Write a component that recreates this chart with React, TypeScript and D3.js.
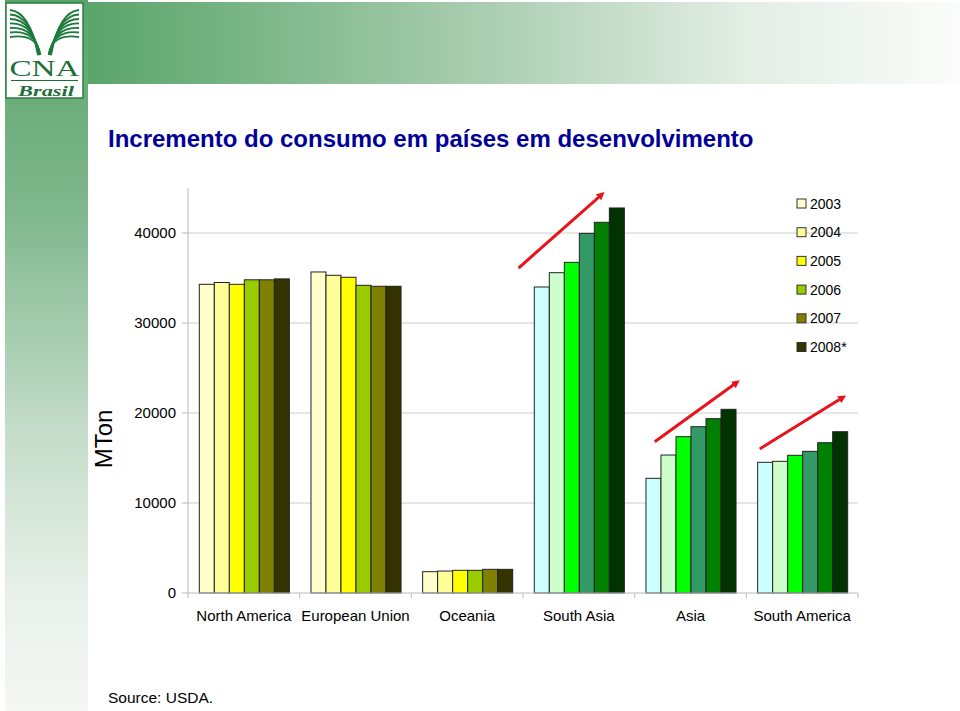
import React from "react";
import * as d3 from "d3";

const categories = ["North America", "European Union", "Oceania", "South Asia", "Asia", "South America"];
const years = ["2003", "2004", "2005", "2006", "2007", "2008*"];
const values: number[][] = [
  [34300, 34500, 34300, 34800, 34800, 34900],
  [35670, 35300, 35080, 34190, 34080, 34080],
  [2370, 2440, 2520, 2520, 2630, 2630],
  [34000, 35590, 36740, 39960, 41190, 42780],
  [12740, 15330, 17370, 18480, 19370, 20410],
  [14520, 14630, 15300, 15740, 16700, 17920],
];
const yellowPalette = ["#FFFFCC", "#FFFF99", "#FFFF00", "#99CC00", "#808000", "#333300"];
const greenPalette = ["#CCFFFF", "#CCFFCC", "#00FF00", "#339966", "#008000", "#003300"];
const paletteByCategory = [0, 0, 0, 1, 1, 1];
const yTicks = [0, 10000, 20000, 30000, 40000];
// growth arrows: category index, band fraction start/end, value start/end
const arrows = [
  { cat: 3, f0: -0.04, f1: 0.71, v0: 36110, v1: 44330 },
  { cat: 4, f0: 0.18, f1: 0.92, v0: 16810, v1: 23440 },
  { cat: 5, f0: 0.12, f1: 0.87, v0: 16000, v1: 21780 },
];

const W = 960;
const H = 711;
const left = 188;
const right = 858;
const top = 188;
const bottom = 593;
const font = "'Liberation Sans', Arial, sans-serif";

export default function App() {
  const x = d3.scaleBand<string>().domain(categories).range([left, right]).paddingInner(0).paddingOuter(0);
  const y = d3.scaleLinear().domain([0, 45000]).range([bottom, top]);
  const inner = d3.scaleBand<string>().domain(years).range([0, x.bandwidth()]).paddingOuter(0.72).paddingInner(0);
  const bw = inner.bandwidth();
  const palettes = [yellowPalette, greenPalette];

  const fan = [0, 1, 2, 3, 4, 5, 6];

  return (
    <svg width={W} height={H} style={{ position: "absolute", left: 0, top: 0, background: "#fff" }} fontFamily={font}>
      <defs>
        <linearGradient id="band" x1="0" x2="1" y1="0" y2="0">
          <stop offset="0" stopColor="#5aa56a" />
          <stop offset="0.45" stopColor="#a9cdb0" />
          <stop offset="0.75" stopColor="#e2ede4" />
          <stop offset="1" stopColor="#fbfcfb" />
        </linearGradient>
        <linearGradient id="strip" x1="0" x2="0" y1="0" y2="1">
          <stop offset="0" stopColor="#5aa56a" />
          <stop offset="0.3" stopColor="#7fb78d" />
          <stop offset="0.6" stopColor="#c4dcc9" />
          <stop offset="0.85" stopColor="#eaf1eb" />
          <stop offset="1" stopColor="#f4f7f4" />
        </linearGradient>
        <marker id="arrowhead" markerWidth="8" markerHeight="8" refX="5" refY="4" orient="auto" markerUnits="userSpaceOnUse">
          <path d="M0,0 L8,4 L0,8 Z" fill="#e8141c" />
        </marker>
      </defs>

      {/* background decorations */}
      <rect x={5} y={0} width={83} height={H} fill="url(#strip)" />
      <rect x={88} y={2} width={W - 88} height={82} fill="url(#band)" />

      {/* logo */}
      <g>
        <rect x={6} y={3} width={77} height={95} fill="#fff" stroke="#2e7d46" strokeWidth={1.5} />
        {fan.map((i) => (
          <path
            key={"l" + i}
            d={`M${10} ${10 + i * 4.5} Q ${30 + i * 1.2} ${12 + i * 3.5} ${38 + i * 0.4} ${55}`}
            fill="none"
            stroke="#1d7a3c"
            strokeWidth={1.8}
          />
        ))}
        {fan.map((i) => (
          <path
            key={"r" + i}
            d={`M${79} ${10 + i * 4.5} Q ${59 - i * 1.2} ${12 + i * 3.5} ${51 - i * 0.4} ${55}`}
            fill="none"
            stroke="#1d7a3c"
            strokeWidth={1.8}
          />
        ))}
        <text x={44.5} y={76} textAnchor="middle" fontFamily="'Liberation Serif', serif" fontSize={24} fill="#1d6e38" textLength={70} lengthAdjust="spacingAndGlyphs">CNA</text>
        <line x1={11} x2={78} y1={80.5} y2={80.5} stroke="#1d6e38" strokeWidth={1} />
        <text x={46} y={96} textAnchor="middle" fontFamily="'Liberation Serif', serif" fontStyle="italic" fontWeight="bold" fontSize={14} fill="#1d6e38" textLength={56} lengthAdjust="spacingAndGlyphs">Brasil</text>
      </g>

      {/* title */}
      <text x={108} y={147} fontSize={24} fontWeight="bold" fill="#000099">Incremento do consumo em países em desenvolvimento</text>

      {/* gridlines */}
      {yTicks.filter((t) => t > 0).map((t) => (
        <line key={"g" + t} x1={left} x2={right} y1={y(t)} y2={y(t)} stroke="#cccccc" strokeWidth={1} />
      ))}

      {/* bars */}
      {categories.map((c, ci) => (
        <g key={c} transform={`translate(${x(c)},0)`}>
          {years.map((yr, yi) => (
            <rect
              key={yr}
              x={(inner(yr) as number) + 0.5}
              y={y(values[ci][yi])}
              width={bw}
              height={bottom - y(values[ci][yi])}
              fill={palettes[paletteByCategory[ci]][yi]}
              stroke="#222"
              strokeWidth={1}
            />
          ))}
        </g>
      ))}

      {/* axes */}
      <line x1={left} x2={left} y1={top} y2={bottom} stroke="#bbbbbb" />
      <line x1={left} x2={right} y1={bottom} y2={bottom} stroke="#bbbbbb" />
      {yTicks.map((t) => (
        <g key={"t" + t}>
          <line x1={left - 6} x2={left} y1={y(t)} y2={y(t)} stroke="#bbbbbb" />
          <text x={176} y={y(t) + 5} textAnchor="end" fontSize={15} fill="#000">{t}</text>
        </g>
      ))}
      {categories.map((c) => (
        <line key={"xt" + c} x1={x(c) as number} x2={x(c) as number} y1={bottom} y2={bottom + 5} stroke="#bbbbbb" />
      ))}
      <line x1={right} x2={right} y1={bottom} y2={bottom + 5} stroke="#bbbbbb" />
      {categories.map((c) => (
        <text key={"xl" + c} x={(x(c) as number) + x.bandwidth() / 2} y={621} textAnchor="middle" fontSize={15} fill="#000">{c}</text>
      ))}

      <text transform={`translate(112,439) rotate(-90)`} textAnchor="middle" fontSize={24} fill="#000">MTon</text>

      {/* arrows */}
      {arrows.map((a, i) => {
        const bx = x(categories[a.cat]) as number;
        const bwid = x.bandwidth();
        return (
          <line
            key={"a" + i}
            x1={bx + a.f0 * bwid}
            y1={y(a.v0)}
            x2={bx + a.f1 * bwid}
            y2={y(a.v1)}
            stroke="#e8141c"
            strokeWidth={3}
            markerEnd="url(#arrowhead)"
          />
        );
      })}

      {/* legend */}
      {years.map((yr, i) => (
        <g key={"lg" + yr} transform={`translate(797,${199 + i * 28.7})`}>
          <rect x={0} y={0} width={9} height={9} fill={yellowPalette[i]} stroke="#333" strokeWidth={1} />
          <text x={13} y={9.5} fontSize={14} fill="#000">{yr}</text>
        </g>
      ))}

      <text x={108} y={703} fontSize={15.5} fill="#000">Source: USDA.</text>
    </svg>
  );
}
